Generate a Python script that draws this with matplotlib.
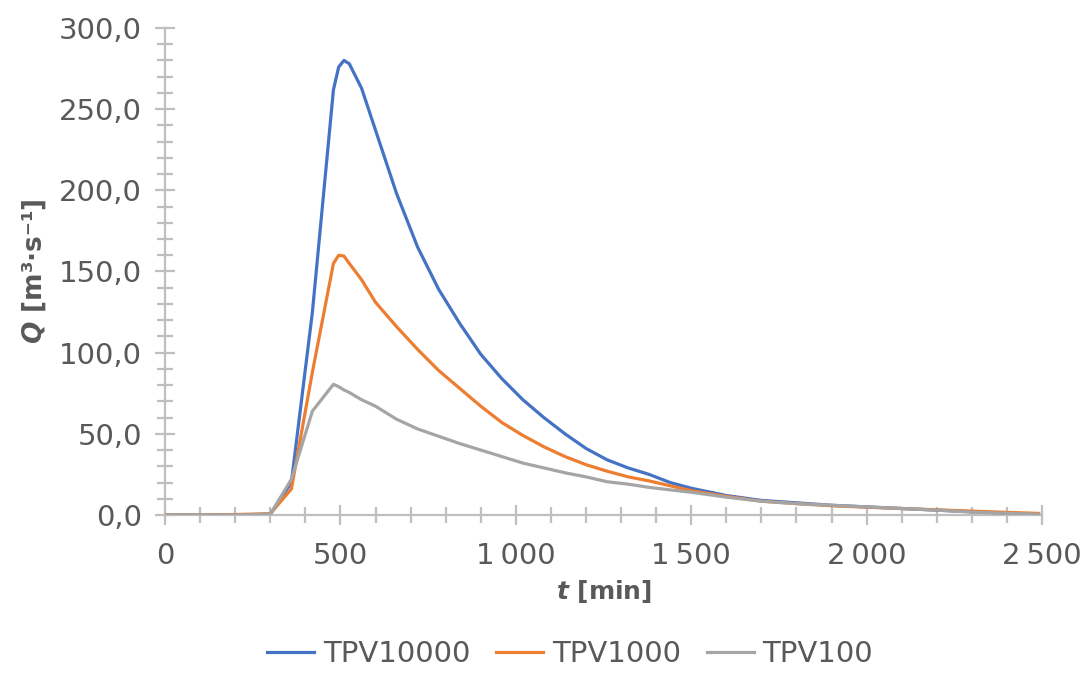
import matplotlib.pyplot as plt
from matplotlib.ticker import MultipleLocator, FuncFormatter

# time [min]
t = [0, 100, 200, 300, 360, 420, 480, 495, 510, 525, 560, 600, 660, 720, 780, 840,
     900, 960, 1020, 1080, 1140, 1200, 1260, 1320, 1380, 1440, 1500, 1600, 1700,
     1800, 1900, 2000, 2100, 2200, 2300, 2400, 2490]

# discharge Q [m3/s]
tpv10000 = [0, 0, 0, 0.5, 20, 125, 262, 276, 280, 278, 263, 237, 198, 165, 139, 118,
            99, 84, 71, 60, 50, 41, 34, 29, 25, 20, 16.5, 12, 9, 7.5, 6, 5, 4, 3, 2,
            1.2, 0.5]
tpv1000 = [0, 0, 0.3, 0.8, 16, 88, 155, 160, 159.5, 155, 145, 131, 116, 102, 89, 78,
           67, 57, 49, 42, 36, 31, 27, 23.5, 21, 18, 15, 11.5, 8.5, 7, 5.7, 4.8, 4,
           3.2, 2.4, 1.6, 1.0]
tpv100 = [0, 0, 0, 0.5, 22, 64, 80.5, 79, 77, 75.5, 71, 67, 59, 53, 48.5, 44, 40,
          36, 32, 29, 26, 23.5, 20.5, 19, 17, 15.5, 14, 11, 8.5, 7, 6, 5, 4, 3, 1.8,
          1, 0.5]

plt.rcParams['font.family'] = 'DejaVu Sans'
plt.rcParams['mathtext.fontset'] = 'custom'
plt.rcParams['mathtext.it'] = 'DejaVu Sans:italic:bold'

txt = '#595959'
axc = '#BFBFBF'

fig = plt.figure(figsize=(10.86, 6.91), dpi=100)
ax = fig.add_axes([0.152, 0.2547, 0.8075, 0.7048])

ax.plot(t, tpv10000, color='#4472C4', lw=2.3, label='TPV10000', solid_joinstyle='round')
ax.plot(t, tpv1000, color='#ED7D31', lw=2.3, label='TPV1000', solid_joinstyle='round')
ax.plot(t, tpv100, color='#A5A5A5', lw=2.3, label='TPV100', solid_joinstyle='round')

ax.set_xlim(0, 2500)
ax.set_ylim(0, 300)
ax.xaxis.set_major_locator(MultipleLocator(500))
ax.xaxis.set_minor_locator(MultipleLocator(100))
ax.yaxis.set_major_locator(MultipleLocator(50))
ax.yaxis.set_minor_locator(MultipleLocator(10))
ax.xaxis.set_major_formatter(FuncFormatter(lambda v, p: f'{v:,.0f}'.replace(',', '\u2009')))
ax.yaxis.set_major_formatter(FuncFormatter(lambda v, p: f'{v:.1f}'.replace('.', ',')))

for s in ['top', 'right']:
    ax.spines[s].set_visible(False)
for s in ['left', 'bottom']:
    ax.spines[s].set_color(axc)
    ax.spines[s].set_linewidth(1.6)
    ax.spines[s].set_zorder(0)

ax.tick_params(which='major', direction='inout', length=15, width=1.6, color=axc,
               labelsize=21, labelcolor=txt)
ax.tick_params(which='minor', direction='inout', length=11, width=1.6, color=axc)
ax.tick_params(axis='x', which='major', pad=12)
ax.tick_params(axis='y', which='major', pad=9)

ax.set_xlabel(r'$\it{t}$ [min]', fontsize=18, fontweight='bold', color=txt, labelpad=6)
ax.set_ylabel(r'$\it{Q}$ [m³·s⁻¹]', fontsize=19, fontweight='bold', color=txt, labelpad=8)

leg = fig.legend(loc='lower center', bbox_to_anchor=(0.525, -0.005), ncol=3,
                 frameon=False, fontsize=21, handlelength=1.6, columnspacing=0.9,
                 handletextpad=0.3)
for tx in leg.get_texts():
    tx.set_color(txt)

fig.savefig('out.png', dpi=100)
